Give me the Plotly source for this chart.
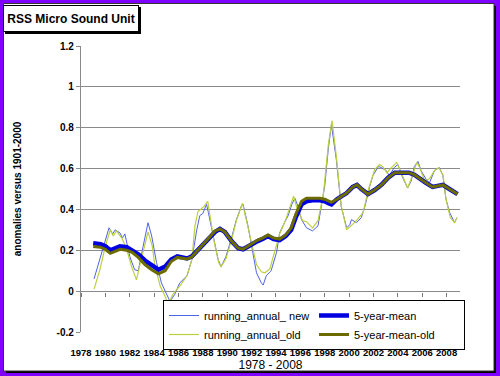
import plotly.graph_objects as go

# ---------------- data ----------------
new_years = [1979.07, 1979.5, 1980.0, 1980.3, 1980.6, 1980.8, 1981.2, 1981.4, 1981.6, 1982.0,
             1982.4, 1982.7, 1983.1, 1983.5, 1983.8, 1984.2, 1984.6, 1985.0, 1985.3, 1985.7,
             1986.1, 1986.7, 1987.1, 1987.5, 1987.75, 1988.0, 1988.3, 1988.45, 1988.85, 1989.25,
             1989.5, 1989.9, 1990.35, 1990.75, 1991.15, 1991.3, 1991.7, 1992.1, 1992.4, 1992.8,
             1992.95, 1993.2, 1993.6, 1994.05, 1994.3, 1994.7, 1995.0, 1995.3, 1995.55, 1995.8,
             1996.1, 1996.5, 1997.0, 1997.45, 1997.7, 1998.0, 1998.3, 1998.55, 1998.95, 1999.35,
             1999.8, 2000.05, 2000.2, 2000.6, 2001.0, 2001.3, 2001.7, 2001.95, 2002.4, 2002.65,
             2003.05, 2003.3, 2003.7, 2004.0, 2004.4, 2004.8, 2005.1, 2005.35, 2005.65, 2005.9,
             2006.35, 2006.6, 2007.0, 2007.4, 2007.7, 2007.95, 2008.25, 2008.65, 2008.85]
running_annual_new = [0.06, 0.15, 0.25, 0.31, 0.28, 0.30, 0.285, 0.26, 0.28, 0.17,
                      0.105, 0.10, 0.22, 0.335, 0.27, 0.14, 0.04, -0.01, -0.05, -0.015,
                      0.04, 0.075, 0.155, 0.30, 0.37, 0.38, 0.425, 0.385, 0.27, 0.155,
                      0.12, 0.17, 0.26, 0.35, 0.415, 0.425, 0.32, 0.19, 0.09, 0.04,
                      0.03, 0.075, 0.10, 0.19, 0.285, 0.335, 0.37, 0.425, 0.455, 0.415,
                      0.35, 0.31, 0.295, 0.32, 0.40, 0.515, 0.70, 0.815, 0.645, 0.415,
                      0.31, 0.325, 0.35, 0.335, 0.36, 0.415, 0.515, 0.565, 0.61, 0.605,
                      0.59, 0.565, 0.605, 0.62, 0.555, 0.505, 0.54, 0.61, 0.635, 0.59,
                      0.545, 0.53, 0.59, 0.605, 0.565, 0.45, 0.385, 0.335, 0.36]

old_years = [1979.07, 1979.55, 1980.0, 1980.4, 1980.65, 1980.9, 1981.35, 1981.75, 1982.15, 1982.55,
             1982.8, 1983.25, 1983.5, 1983.85, 1984.05, 1984.5, 1984.9, 1985.15, 1985.55, 1986.1,
             1986.7, 1987.1, 1987.35, 1987.6, 1988.1, 1988.4, 1988.6, 1988.9, 1989.3, 1989.5,
             1989.9, 1990.35, 1990.75, 1991.25, 1991.6, 1992.0, 1992.4, 1992.8, 1993.1, 1993.5,
             1994.0, 1994.3, 1994.8, 1995.1, 1995.45, 1995.75, 1996.2, 1996.5, 1997.0, 1997.45,
             1997.9, 1998.3, 1998.6, 1998.95, 1999.35, 1999.8, 2000.2, 2000.6, 2001.15, 2001.6,
             2002.1, 2002.5, 2002.75, 2003.1, 2003.4, 2003.9, 2004.2, 2004.5, 2004.8, 2005.2,
             2005.55, 2005.75, 2006.2, 2006.6, 2007.0, 2007.35, 2007.7, 2007.95, 2008.3, 2008.65,
             2008.85]
running_annual_old = [0.01, 0.105, 0.22, 0.30, 0.27, 0.295, 0.26, 0.205, 0.12, 0.055,
                      0.12, 0.23, 0.29, 0.22, 0.13, 0.025, -0.025, -0.065, -0.015, 0.025,
                      0.075, 0.155, 0.32, 0.39, 0.415, 0.44, 0.36, 0.25, 0.14, 0.12,
                      0.16, 0.25, 0.345, 0.43, 0.34, 0.23, 0.13, 0.095, 0.09, 0.11,
                      0.21, 0.28, 0.35, 0.40, 0.465, 0.40, 0.345, 0.34, 0.31, 0.345,
                      0.48, 0.72, 0.835, 0.66, 0.42, 0.30, 0.325, 0.345, 0.385, 0.50,
                      0.595, 0.62, 0.61, 0.58, 0.60, 0.63, 0.59, 0.55, 0.505, 0.565,
                      0.63, 0.61, 0.54, 0.55, 0.59, 0.605, 0.57, 0.45, 0.36, 0.335,
                      0.36]

mean_years = [1979.0, 1979.6, 1980.0, 1980.4, 1980.8, 1981.2, 1981.75, 1982.2, 1982.7, 1983.25,
              1983.8, 1984.35, 1984.9, 1985.4, 1985.9, 1986.3, 1986.7, 1987.1, 1987.5, 1987.9,
              1988.5, 1989.0, 1989.4, 1989.8, 1990.35, 1990.9, 1991.3, 1991.85, 1992.5, 1992.9,
              1993.35, 1993.8, 1994.3, 1994.8, 1995.25, 1995.65, 1996.1, 1996.5, 1997.0, 1997.6,
              1998.0, 1998.3, 1998.55, 1999.0, 1999.8, 2000.3, 2000.65, 2001.0, 2001.55, 2002.1,
              2002.65, 2003.2, 2003.75, 2004.4, 2004.9, 2005.35, 2005.9, 2006.3, 2006.85, 2007.3,
              2007.7, 2008.1, 2008.5, 2008.9]
five_year_mean = [0.235, 0.23, 0.22, 0.20, 0.21, 0.22, 0.215, 0.20, 0.18, 0.15,
                  0.125, 0.105, 0.12, 0.155, 0.17, 0.165, 0.16, 0.17, 0.195, 0.22,
                  0.255, 0.29, 0.305, 0.29, 0.245, 0.21, 0.205, 0.225, 0.245, 0.255,
                  0.27, 0.255, 0.25, 0.27, 0.30, 0.365, 0.425, 0.44, 0.445, 0.445,
                  0.44, 0.43, 0.425, 0.45, 0.48, 0.51, 0.52, 0.50, 0.475, 0.495,
                  0.52, 0.555, 0.58, 0.58, 0.58, 0.57, 0.545, 0.53, 0.51, 0.515,
                  0.52, 0.505, 0.49, 0.475]
five_year_mean_old = [0.218, 0.215, 0.205, 0.185, 0.195, 0.205, 0.20, 0.19, 0.165, 0.13,
                      0.105, 0.085, 0.10, 0.145, 0.165, 0.16, 0.158, 0.168, 0.195, 0.22,
                      0.26, 0.295, 0.305, 0.29, 0.245, 0.21, 0.205, 0.225, 0.25, 0.26,
                      0.275, 0.26, 0.255, 0.275, 0.31, 0.38, 0.44, 0.455, 0.455, 0.455,
                      0.45, 0.44, 0.435, 0.45, 0.48, 0.51, 0.52, 0.50, 0.475, 0.495,
                      0.52, 0.555, 0.58, 0.58, 0.58, 0.57, 0.545, 0.53, 0.51, 0.515,
                      0.52, 0.505, 0.49, 0.475]

x_tick_vals = list(range(1978, 2009, 2))
x_tick_text = [str(v) for v in x_tick_vals]
y_tick_vals = [-0.2, 0, 0.2, 0.4, 0.6, 0.8, 1, 1.2]
y_tick_text = ["-0.2", "0", "0.2", "0.4", "0.6", "0.8", "1", "1.2"]

# ---------------- layout geometry ----------------
W, H = 500, 376
ML, MR, MT, MB = 81, 40, 46, 44
PW, PH = W - ML - MR, H - MT - MB


def px_x(p):
    return (p - ML) / PW


def px_y(p):
    return (H - MB - p) / PH


FONT = "Liberation Sans, Arial, sans-serif"
GRID = "#8a8a8a"

fig = go.Figure()

fig.add_trace(go.Scatter(x=new_years, y=running_annual_new, mode="lines",
                         name="running_annual_ new", legendrank=1,
                         line=dict(color="#4f62e8", width=1)))
fig.add_trace(go.Scatter(x=old_years, y=running_annual_old, mode="lines",
                         name="running_annual_old", legendrank=3,
                         line=dict(color="#bccf3e", width=1.2)))
fig.add_trace(go.Scatter(x=mean_years, y=five_year_mean, mode="lines",
                         name="5-year-mean", legendrank=2,
                         line=dict(color="#0000e0", width=4.5)))
fig.add_trace(go.Scatter(x=mean_years, y=five_year_mean_old, mode="lines",
                         name="5-year-mean-old", legendrank=4,
                         line=dict(color="#6b6b00", width=3)))
# invisible trace carrying the tick-mark axis drawn along y = 0
fig.add_trace(go.Scatter(x=[x_tick_vals[0], x_tick_vals[-1]], y=[0, 0], xaxis="x2",
                         mode="lines", showlegend=False, hoverinfo="skip",
                         line=dict(width=0, color="rgba(0,0,0,0)")))

fig.update_layout(
    width=W, height=H,
    margin=dict(l=ML, r=MR, t=MT, b=MB, pad=0, autoexpand=False),
    paper_bgcolor="#8000ff",
    plot_bgcolor="rgba(0,0,0,0)",
    font=dict(family=FONT, color="black"),
    hovermode=False,
    showlegend=True,
    legend=dict(orientation="h", x=px_x(163), y=px_y(300), xanchor="left", yanchor="top",
                bgcolor="white", bordercolor="black", borderwidth=1,
                font=dict(family=FONT, size=11, color="black"),
                entrywidth=105, entrywidthmode="pixels", itemwidth=30,
                tracegroupgap=0),
    xaxis=dict(range=[1978, 2009.1], tickvals=x_tick_vals, ticktext=x_tick_text,
               tickangle=0, showgrid=False, zeroline=False, showline=False,
               ticks="outside", ticklen=12, tickcolor="rgba(0,0,0,0)",
               tickfont=dict(family=FONT, size=9.5, color="black", weight="bold"),
               title=dict(text="1978 - 2008", font=dict(family=FONT, size=12, color="black"),
                          standoff=0)),
    xaxis2=dict(range=[1978, 2009.1], overlaying="x", anchor="free", position=px_y(291.7),
                side="bottom", tickvals=x_tick_vals, showticklabels=False, showgrid=False,
                zeroline=False, showline=False, ticks="outside", ticklen=4,
                tickcolor="#777777", tickwidth=1.2),
    yaxis=dict(range=[-0.2, 1.2], tickvals=y_tick_vals, ticktext=y_tick_text,
               showgrid=True, gridcolor=GRID, gridwidth=1.4, zeroline=False,
               showline=True, linecolor=GRID, linewidth=1.4,
               ticks="outside", ticklen=4, tickcolor=GRID,
               tickfont=dict(family=FONT, size=10, color="black", weight="bold"),
               title=dict(text="anomalies versus 1901-2000",
                          font=dict(family=FONT, size=10, color="black", weight="bold"),
                          standoff=33)),
    shapes=[
        # frame shadow + white panel
        dict(type="rect", xref="paper", yref="paper", layer="below",
             x0=px_x(6), x1=px_x(496), y0=px_y(373), y1=px_y(6),
             fillcolor="black", line=dict(width=0)),
        dict(type="rect", xref="paper", yref="paper", layer="below",
             x0=px_x(3.5), x1=px_x(494), y0=px_y(371), y1=px_y(3.5),
             fillcolor="white", line=dict(color="#333333", width=1)),
        # title box shadow
        dict(type="rect", xref="paper", yref="paper", layer="below",
             x0=px_x(5), x1=px_x(141), y0=px_y(34), y1=px_y(7),
             fillcolor="black", line=dict(width=0)),
    ],
    annotations=[
        dict(text="<b>RSS Micro Sound Unit</b>", xref="paper", yref="paper",
             x=px_x(3), y=px_y(5), xanchor="left", yanchor="top", showarrow=False,
             width=130, height=21, borderpad=2, borderwidth=1, bordercolor="black",
             bgcolor="white", font=dict(family=FONT, size=12, color="black"),
             align="center", valign="middle"),
    ],
)

fig.write_html("out.html", config={"displayModeBar": False},
               post_script="document.body.style.margin='0px';document.body.style.overflow='hidden';")
